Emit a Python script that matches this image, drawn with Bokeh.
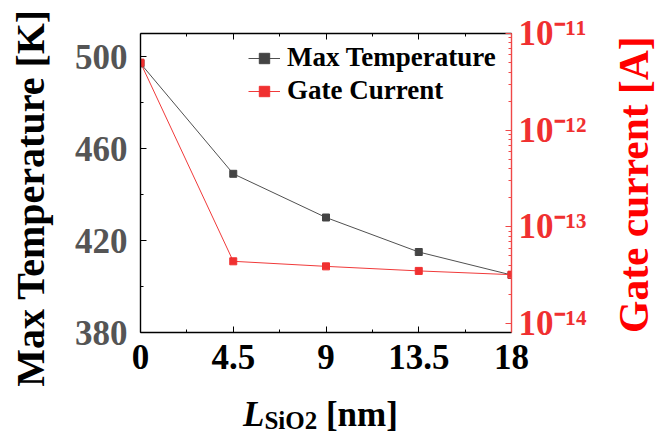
import math
from bokeh.plotting import figure
from bokeh.layouts import column
from bokeh.models import (Range1d, LogScale, LinearAxis, LogAxis, FixedTicker,
                          CustomJSTickFormatter, Legend, LegendItem, Div, Label)
from bokeh.embed import file_html
from bokeh.resources import INLINE

# ---- data ----
x_nm = [0, 4.5, 9, 13.5, 18]
max_temp = [497, 449, 430, 415, 405]
gate_current = [5.0e-12, 4.4e-14, 3.9e-14, 3.5e-14, 3.2e-14]
x_ticks = [0, 4.5, 9, 13.5, 18]
temp_ticks = [380, 420, 460, 500]
current_decades = [-14, -13, -12, -11]

FONT = "Liberation Serif"
BLACK_S = "#505050"
RED_S = "#f03a3a"
RED_AX = "#f04848"

p = figure(width=662, height=396, output_backend="svg", toolbar_location=None,
           x_range=Range1d(0, 18), y_range=Range1d(380, 510),
           min_border_left=140, min_border_right=151,
           min_border_top=33, min_border_bottom=64)
p.extra_y_ranges = {"cur": Range1d(8.07e-15, 1.001e-11)}
p.extra_y_scales = {"cur": LogScale()}
p.grid.visible = False
p.outline_line_color = None

x_minor = [(a + b) / 2 for a, b in zip(x_ticks[:-1], x_ticks[1:])]
t_minor = [(a + b) / 2 for a, b in zip(temp_ticks[:-1], temp_ticks[1:])]
c_major = [10.0 ** e for e in current_decades]
c_minor = [m * 10.0 ** e for e in current_decades[:-1] for m in range(2, 10)]

def style_axis(ax, color, label_color, size="35px"):
    ax.axis_line_color = color
    ax.axis_line_width = 1.4
    ax.major_tick_line_color = color
    ax.minor_tick_line_color = color
    ax.major_tick_in = 6
    ax.major_tick_out = 0
    ax.minor_tick_in = 3
    ax.minor_tick_out = 0
    ax.major_label_text_font = FONT
    ax.major_label_text_font_style = "bold"
    ax.major_label_text_font_size = size
    ax.major_label_text_color = label_color

# bottom axis
xa = p.xaxis[0]
xa.ticker = FixedTicker(ticks=x_ticks, minor_ticks=x_minor)
xa.formatter = CustomJSTickFormatter(code="return tick.toString();")
style_axis(xa, "black", "black")
xa.major_label_standoff = 12

# top axis (ticks only)
ta = LinearAxis(ticker=FixedTicker(ticks=x_ticks, minor_ticks=x_minor))
style_axis(ta, "black", "black", size="8px")
ta.formatter = CustomJSTickFormatter(code="return '';")
ta.major_label_standoff = 0
p.add_layout(ta, "above")

# left axis
ya = p.yaxis[0]
ya.ticker = FixedTicker(ticks=temp_ticks, minor_ticks=t_minor)
style_axis(ya, "black", "#555555")
ya.major_label_standoff = 13

# right log axis
ra = LogAxis(y_range_name="cur", ticker=FixedTicker(ticks=c_major, minor_ticks=c_minor))
ra.formatter = CustomJSTickFormatter(code=r"""
const sup = {"-": "\u207b", "0": "\u2070", "1": "\u00b9", "2": "\u00b2", "3": "\u00b3",
             "4": "\u2074", "5": "\u2075", "6": "\u2076", "7": "\u2077", "8": "\u2078", "9": "\u2079"};
const e = Math.round(Math.log10(tick));
return "10" + String(e).split("").map(c => sup[c]).join("");
""")
style_axis(ra, RED_AX, "#f03030")
ra.major_label_standoff = 7
p.add_layout(ra, "right")

# axis titles (read bottom to top), placed in the side panels
p.add_layout(Label(x=-5.34, y=438.5, text="Max Temperature [K]", angle=math.pi / 2,
                   text_align="center", text_baseline="middle",
                   text_font=FONT, text_font_style="bold", text_font_size="40px",
                   text_color="black"), "left")
p.add_layout(Label(x=23.92, y=444.3, text="Gate current [A]", angle=math.pi / 2,
                   text_align="center", text_baseline="middle",
                   text_font=FONT, text_font_style="bold", text_font_size="41.5px",
                   text_color="#ff0000"), "right")

# series
l1 = p.line(x_nm, max_temp, line_color=BLACK_S, line_width=1)
s1 = p.scatter(x_nm, max_temp, marker="square", size=7, fill_color="#444444", line_color="#444444")
l2 = p.line(x_nm, gate_current, y_range_name="cur", line_color=RED_S, line_width=1)
s2 = p.scatter(x_nm, gate_current, y_range_name="cur", marker="square", size=7,
               fill_color="#f03030", line_color="#f03030")

legend = Legend(items=[LegendItem(label="Max Temperature", renderers=[l1, s1]),
                       LegendItem(label="Gate Current", renderers=[l2, s2])],
                location=(108, 226), border_line_color=None, background_fill_alpha=0,
                padding=0, margin=0, spacing=2, glyph_width=32, glyph_height=26,
                label_height=26, label_standoff=7,
                label_text_font=FONT, label_text_font_style="bold",
                label_text_font_size="27px", label_text_color="black")
p.add_layout(legend)

xtitle = Div(width=662, height=34, text=(
    "<div style=\"font-family:'Liberation Serif';font-weight:bold;font-size:35px;"
    "line-height:28px;padding-left:238px;color:black;white-space:nowrap\">"
    "<i>L</i><span style=\"font-size:25px;position:relative;top:3px\">SiO2</span> [nm]</div>"))

layout = column(p, xtitle, spacing=0)

open("out.html", "w", encoding="utf-8").write(file_html(layout, INLINE))
